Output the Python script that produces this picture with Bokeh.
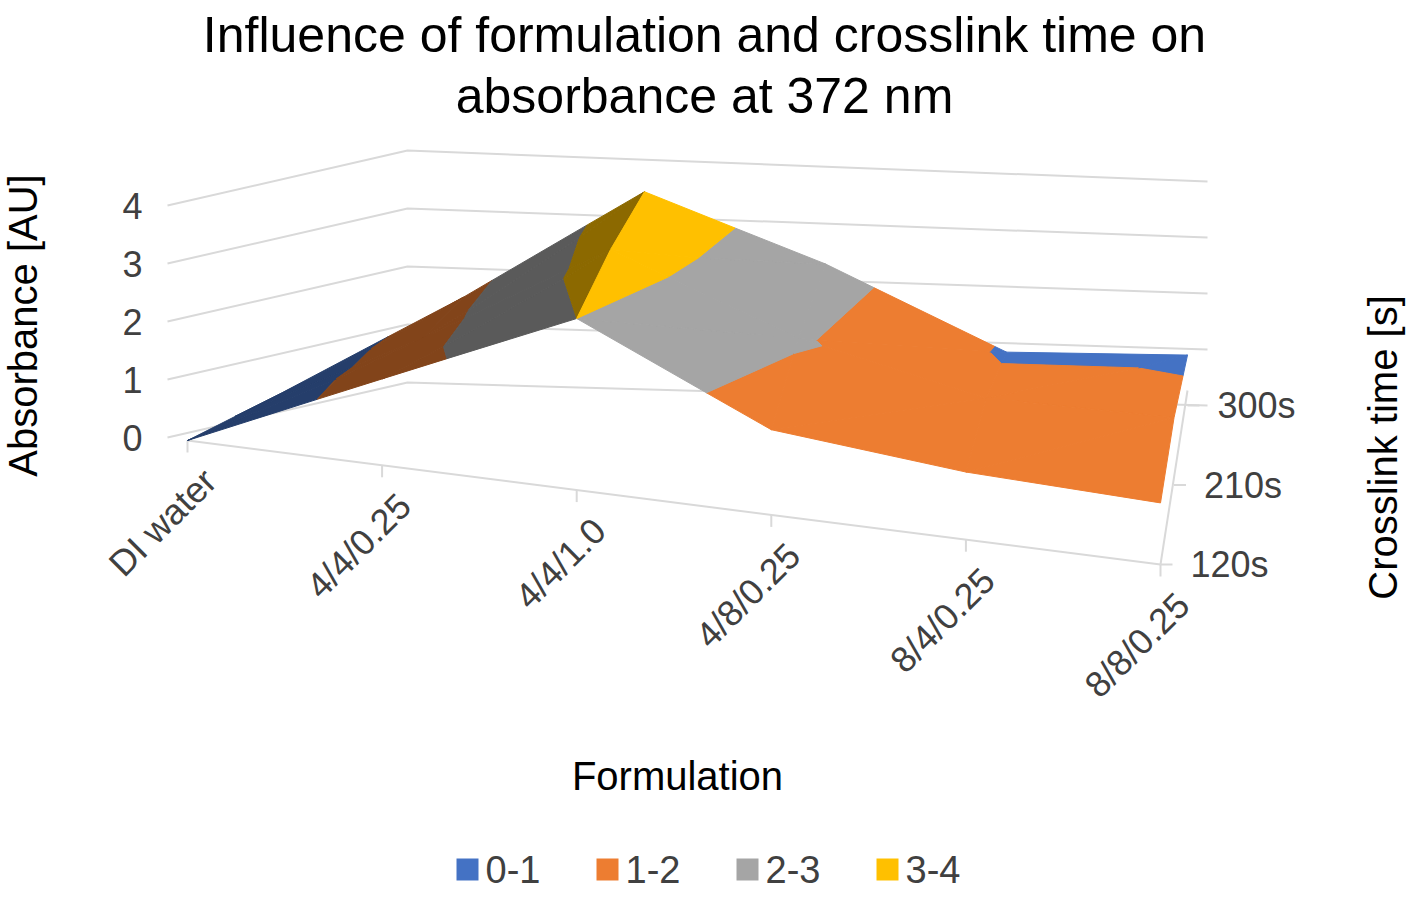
import numpy as np
from bokeh.plotting import figure
from bokeh.models import Range1d
from bokeh.core.properties import value
from bokeh.embed import file_html
from bokeh.resources import INLINE

formulations = ["DI water", "4/4/0.25", "4/4/1.0", "4/8/0.25", "8/4/0.25", "8/8/0.25"]
times = ["120s", "210s", "300s"]
abs_120 = [0.0, 1.5, 3.0, 1.5, 1.2, 1.1]
abs_210 = [0.0, 1.6, 3.4, 2.1, 1.3, 1.2]
abs_300 = [0.0, 1.7, 3.6, 2.4, 0.9, 0.9]
bands = ["0-1", "1-2", "2-3", "3-4"]
band_colors = ["#4472C4", "#ED7D31", "#A5A5A5", "#FFC000"]
zticks = [0, 1, 2, 3, 4]

Z = np.array([abs_120, abs_210, abs_300])  # [j][i]
NI, NJ = len(formulations), len(times)
FL, FR, BL, BR = np.array([195, 448.]), np.array([1168, 572.]), np.array([290, 400.]), np.array([1195, 413.])
WBL = np.array([415, 390.])
FONT = value("Liberation Sans")

def proj(i, j, z):
    u, v = i / (NI - 1), j / (NJ - 1)
    b = (1-u)*(1-v)*FL + u*(1-v)*FR + (1-u)*v*BL + u*v*BR
    h = 58*(1-u) + 56*u
    return b[0], b[1] - z*h

p = figure(width=1409, height=887, x_range=Range1d(8, 1417), y_range=Range1d(895, 8),
           output_backend="svg", toolbar_location=None, min_border=0)
p.axis.visible = False
p.grid.visible = False
p.outline_line_color = None

# walls
for z in zticks:
    x0, y0 = 175, 445 - 58*z
    x1, y1 = WBL[0], WBL[1] - 58*z
    x2, y2 = proj(NI-1, NJ-1, z)
    p.line([x0, x1, x2 + 20], [y0, y1, y2], line_color="#D9D9D9", line_width=2)
    p.text([150], [y0], text=[str(z)], text_font=FONT, text_font_size="36px",
           text_align="right", text_baseline="middle", text_color="#404040")
# front axis
xs, ys = zip(*[proj(i, 0, 0) for i in range(NI)])
p.line([xs[0], xs[-1]], [ys[0], ys[-1]], line_color="#D9D9D9", line_width=2)
for i in range(NI):
    p.line([xs[i], xs[i]], [ys[i], ys[i] + 12], line_color="#D9D9D9", line_width=2)
    p.text([xs[i] + 8], [ys[i] + 20], text=[formulations[i]], text_font=FONT,
           text_font_size="36px", text_align="right", text_baseline="top",
           angle=np.pi/4, text_color="#404040")
# depth axis
ax = [proj(NI-1, j, 0) for j in range(NJ)]
p.line([ax[0][0], ax[-1][0]], [ax[0][1], ax[-1][1] - 15], line_color="#D9D9D9", line_width=2)
for j, t in enumerate(times):
    x, y = ax[j]
    p.line([x, x + 12], [y, y], line_color="#D9D9D9", line_width=2)
    p.text([x + 30], [y], text=[t], text_font=FONT, text_font_size="36px",
           text_baseline="middle", text_color="#404040")

def clip(poly, lo, hi):
    def cl(pts, f):
        out = []
        n = len(pts)
        for k in range(n):
            a, b = pts[k], pts[(k+1) % n]
            fa, fb = f(a), f(b)
            if fa >= 0:
                out.append(a)
            if (fa >= 0) != (fb >= 0):
                t = fa / (fa - fb)
                out.append(tuple(a[m] + t*(b[m]-a[m]) for m in range(3)))
        return out
    pts = cl(poly, lambda q: q[2] - lo)
    if pts:
        pts = cl(pts, lambda q: hi - q[2])
    return pts

def shade(c, f):
    c = c.lstrip("#")
    r, g, b = [int(c[k:k+2], 16) for k in (0, 2, 4)]
    return "#%02x%02x%02x" % (int(r*f), int(g*f), int(b*f))

PX, PY, PC = [], [], []
for j in reversed(range(NJ-1)):
    for i in range(NI-1):
        a = (i, j, Z[j][i]); b = (i+1, j, Z[j][i+1])
        c = (i+1, j+1, Z[j+1][i+1]); d = (i, j+1, Z[j+1][i])
        dz = (b[2] + c[2] - a[2] - d[2]) / 2
        f = 0.55 if dz > 0.2 else 1.0
        for tri in ([a, b, c], [a, c, d]):
            for k in range(len(bands)):
                poly = clip(tri, k, k+1 if k < 3 else 10)
                if len(poly) >= 3:
                    pr = [proj(*q) for q in poly]
                    PX.append([q[0] for q in pr]); PY.append([q[1] for q in pr])
                    PC.append(shade(band_colors[k], f))
p.patches(PX, PY, fill_color=PC, line_color=PC, line_width=1)

# titles
p.text([712, 712], [42, 103], text=["Influence of formulation and crosslink time on", "absorbance at 372 nm"],
       text_font=FONT, text_font_size="50px", text_align="center", text_baseline="middle", text_color="#000000")
p.text([685], [783], text=["Formulation"], text_font=FONT, text_font_size="40px",
       text_align="center", text_baseline="middle", text_color="#000000")
p.text([30], [333], text=["Absorbance [AU]"], text_font=FONT, text_font_size="40px",
       text_align="center", text_baseline="middle", angle=np.pi/2, text_color="#000000")
p.text([1390], [455], text=["Crosslink time [s]"], text_font=FONT, text_font_size="40px",
       text_align="center", text_baseline="middle", angle=np.pi/2, text_color="#000000")
# legend
lx = [475, 615, 755, 895]
p.rect(lx, [877]*4, width=22, height=22, fill_color=band_colors, line_color=None)
p.text([x + 18 for x in lx], [877]*4, text=bands, text_font=FONT, text_font_size="38px",
       text_baseline="middle", text_color="#404040")

open("out.html", "w").write(file_html(p, INLINE))
